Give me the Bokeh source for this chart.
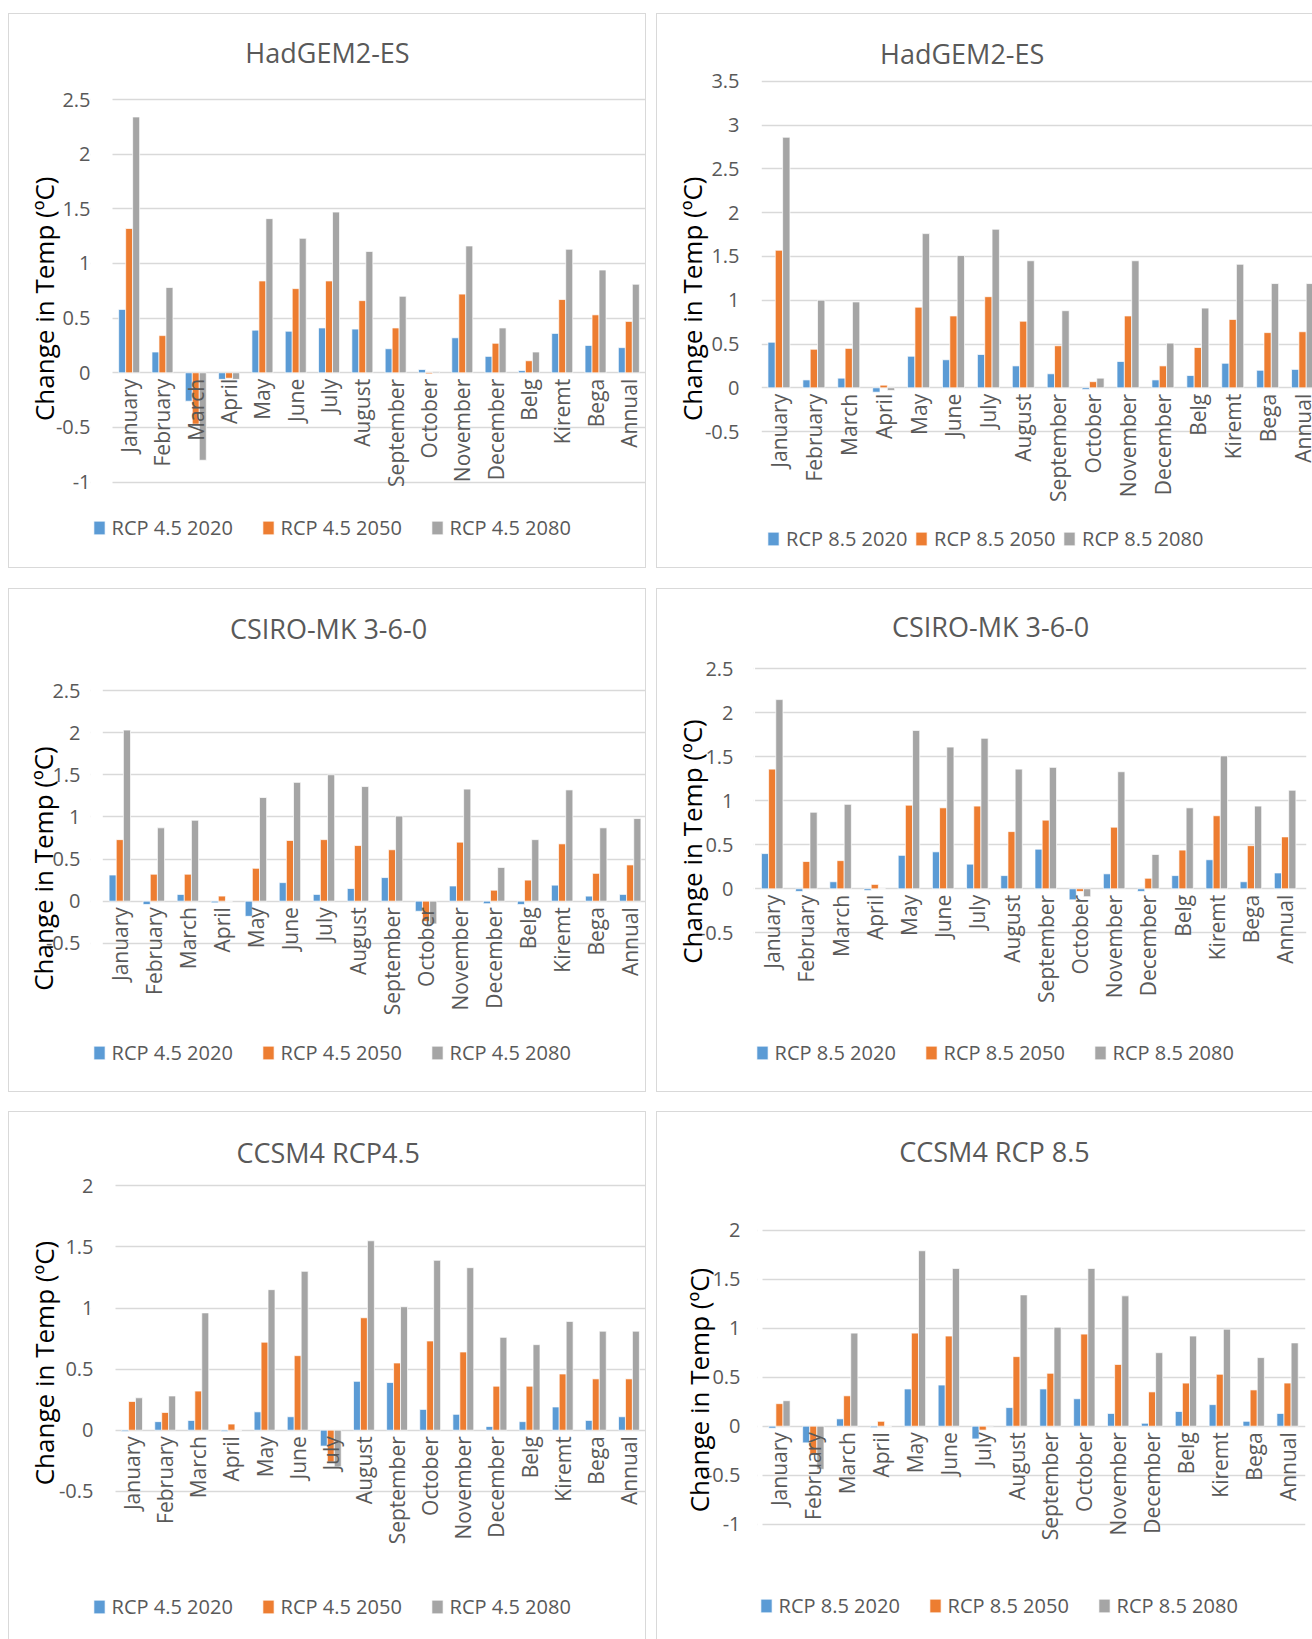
import math
from bokeh.plotting import figure
from bokeh.models import (Range1d, FixedTicker, NumeralTickFormatter, ColumnDataSource,
                          Legend, LegendItem, Label, LabelSet, Spacer, BoxAnnotation)
from bokeh.core.properties import value
from bokeh.layouts import row, column
from bokeh.transform import dodge
from bokeh.embed import file_html
from bokeh.resources import INLINE

categories = ["January", "February", "March", "April", "May", "June", "July", "August",
              "September", "October", "November", "December", "Belg", "Kiremt", "Bega", "Annual"]

# HadGEM2-ES RCP 4.5
had45_2020 = [0.58, 0.19, -0.26, -0.06, 0.39, 0.38, 0.41, 0.40, 0.22, 0.03, 0.32, 0.15, 0.02, 0.36, 0.25, 0.23]
had45_2050 = [1.32, 0.34, -0.47, -0.05, 0.84, 0.77, 0.84, 0.66, 0.41, -0.01, 0.72, 0.27, 0.11, 0.67, 0.53, 0.47]
had45_2080 = [2.34, 0.78, -0.80, -0.06, 1.41, 1.23, 1.47, 1.11, 0.70, 0.01, 1.16, 0.41, 0.19, 1.13, 0.94, 0.81]
# HadGEM2-ES RCP 8.5
had85_2020 = [0.52, 0.09, 0.11, -0.05, 0.36, 0.32, 0.38, 0.25, 0.16, -0.02, 0.30, 0.09, 0.14, 0.28, 0.20, 0.21]
had85_2050 = [1.57, 0.44, 0.45, 0.03, 0.92, 0.82, 1.04, 0.76, 0.48, 0.07, 0.82, 0.25, 0.46, 0.78, 0.63, 0.64]
had85_2080 = [2.86, 1.00, 0.98, -0.03, 1.76, 1.51, 1.81, 1.45, 0.88, 0.11, 1.45, 0.51, 0.91, 1.41, 1.19, 1.19]
# CSIRO-MK 3-6-0 RCP 4.5
csiro45_2020 = [0.31, -0.04, 0.08, -0.02, -0.18, 0.22, 0.08, 0.15, 0.28, -0.12, 0.18, -0.03, -0.04, 0.19, 0.06, 0.08]
csiro45_2050 = [0.73, 0.32, 0.32, 0.06, 0.39, 0.72, 0.73, 0.66, 0.61, -0.24, 0.70, 0.13, 0.25, 0.68, 0.33, 0.43]
csiro45_2080 = [2.03, 0.87, 0.96, 0.0, 1.23, 1.41, 1.50, 1.36, 1.01, -0.27, 1.33, 0.40, 0.73, 1.32, 0.87, 0.98]
# CSIRO-MK 3-6-0 RCP 8.5
csiro85_2020 = [0.40, -0.03, 0.08, -0.02, 0.38, 0.42, 0.28, 0.15, 0.45, -0.125, 0.17, -0.03, 0.15, 0.33, 0.08, 0.18]
csiro85_2050 = [1.36, 0.31, 0.32, 0.05, 0.95, 0.92, 0.94, 0.65, 0.78, -0.03, 0.70, 0.12, 0.44, 0.83, 0.49, 0.59]
csiro85_2080 = [2.15, 0.87, 0.96, 0.0, 1.80, 1.61, 1.71, 1.36, 1.38, -0.09, 1.33, 0.39, 0.92, 1.51, 0.94, 1.12]
# CCSM4 RCP 4.5
ccsm45_2020 = [-0.01, 0.07, 0.08, -0.01, 0.15, 0.11, -0.13, 0.40, 0.39, 0.17, 0.13, 0.03, 0.07, 0.19, 0.08, 0.11]
ccsm45_2050 = [0.235, 0.145, 0.32, 0.05, 0.72, 0.61, -0.26, 0.92, 0.55, 0.73, 0.64, 0.36, 0.36, 0.46, 0.42, 0.42]
ccsm45_2080 = [0.265, 0.28, 0.96, 0.0, 1.15, 1.30, -0.30, 1.55, 1.01, 1.39, 1.33, 0.76, 0.70, 0.89, 0.81, 0.81]
# CCSM4 RCP 8.5
ccsm85_2020 = [-0.02, -0.17, 0.075, -0.015, 0.38, 0.42, -0.13, 0.19, 0.38, 0.28, 0.13, 0.03, 0.15, 0.22, 0.05, 0.13]
ccsm85_2050 = [0.23, -0.29, 0.31, 0.05, 0.95, 0.92, -0.04, 0.71, 0.54, 0.94, 0.63, 0.35, 0.44, 0.53, 0.37, 0.44]
ccsm85_2080 = [0.26, -0.44, 0.95, 0.0, 1.79, 1.61, 0.005, 1.34, 1.01, 1.61, 1.33, 0.75, 0.92, 0.99, 0.70, 0.85]

labels45 = ["RCP 4.5 2020", "RCP 4.5 2050", "RCP 4.5 2080"]
labels85 = ["RCP 8.5 2020", "RCP 8.5 2050", "RCP 8.5 2080"]

yticks_had45 = [-1, -0.5, 0, 0.5, 1, 1.5, 2, 2.5]
yticks_had85 = [-0.5, 0, 0.5, 1, 1.5, 2, 2.5, 3, 3.5]
yticks_csiro = [-0.5, 0, 0.5, 1, 1.5, 2, 2.5]
yticks_ccsm45 = [-0.5, 0, 0.5, 1, 1.5, 2]
yticks_ccsm85 = [-1, -0.5, 0, 0.5, 1, 1.5, 2]

titles = ["HadGEM2-ES", "HadGEM2-ES", "CSIRO-MK 3-6-0", "CSIRO-MK 3-6-0", "CCSM4 RCP4.5", "CCSM4 RCP 8.5"]
y_title = "Change in Temp (ºC)"

FONT = "Open Sans"
COLORS = ["#5B9BD5", "#ED7D31", "#A5A5A5"]
TXT = "#595959"
GRID = "#d9d9d9"
BW = 0.21
NBSP = "\u00a0"
YT_SIZE = 26


def make_panel(title, series, labels, yticks, box, sides, area, title_c, ylab, leg):
    # box: page box of the panel; area: page pixels of the plot area
    # (left, right of the 16 categories, top tick, bottom tick, right edge of drawn frame)
    x0, y0, w, h = box
    fl, fr_ref, ft, fb, fr_canvas = area
    sq_left, sq_cy, step = leg
    FL = min(fl, sq_left - 3)          # frame left (legend must sit inside the frame)
    ux = (fr_ref - fl) / len(categories)
    ymin, ymax = yticks[0], yticks[-1]
    uy = (fb - ft) / (ymax - ymin)
    frame_bottom = y0 + h
    x_start = (FL - fl) / ux
    x_end = (fr_canvas - fl) / ux
    y_start = ymax - (frame_bottom - ft) / uy
    y_end = ymax + (ft - y0) / uy

    p = figure(width=w, height=h, x_range=Range1d(x_start, x_end), y_range=Range1d(y_start, y_end),
               output_backend="svg", toolbar_location=None,
               min_border_left=int(round(FL - x0)), min_border_right=int(round(x0 + w - fr_canvas)),
               min_border_top=0, min_border_bottom=0)
    bl, br, bt, bb = sides
    p.styles = {"border-left": ("1px solid %s" % GRID) if bl else "none",
                "border-right": ("1px solid %s" % GRID) if br else "none",
                "border-top": ("1px solid %s" % GRID) if bt else "none",
                "border-bottom": ("1px solid %s" % GRID) if bb else "none"}
    p.outline_line_color = None
    p.background_fill_color = "white"
    p.border_fill_color = "white"

    p.ygrid.grid_line_color = GRID
    p.ygrid.grid_line_width = 1.3
    p.xgrid.grid_line_color = None
    # keep the gridlines from running left of the plot area
    p.add_layout(BoxAnnotation(right=0, fill_color="white", fill_alpha=1.0, line_alpha=0.0,
                               level="underlay"))

    xpos = [i + 0.5 for i in range(len(categories))]
    src = ColumnDataSource(dict(x=xpos, name=categories, s0=series[0], s1=series[1], s2=series[2]))
    rends = []
    for k, off in enumerate([-BW, 0.0, BW]):
        r = p.vbar(x=dodge("x", off), top="s%d" % k, width=BW, source=src,
                   fill_color=COLORS[k], line_color="white", line_width=0.7)
        rends.append(r)

    p.xaxis.visible = False

    # y axis title: shift it along the axis to where the reference has it
    lx_std, ly = ylab
    frame_mid = (y0 + frame_bottom) / 2.0
    n_pad = int(round(abs(ly - frame_mid) / (0.26 * YT_SIZE / 2.0)))
    if ly > frame_mid:
        label_text = y_title + NBSP * n_pad
    else:
        label_text = NBSP * n_pad + y_title

    yax = p.yaxis[0]
    yax.ticker = FixedTicker(ticks=yticks)
    yax.formatter = NumeralTickFormatter(format="0.[0]")
    yax.axis_line_color = None
    yax.major_tick_line_color = None
    yax.minor_tick_line_color = None
    yax.major_label_standoff = int(round(FL - fl + 16))
    yax.major_label_text_font = FONT
    yax.major_label_text_font_size = "20px"
    yax.major_label_text_color = TXT
    yax.axis_label = label_text
    yax.axis_label_text_font = FONT
    yax.axis_label_text_font_size = "%dpx" % YT_SIZE
    yax.axis_label_text_font_style = "normal"
    yax.axis_label_text_color = "black"
    yax.axis_label_standoff = lx_std

    # category labels hanging from the zero line
    p.add_layout(LabelSet(x="x", y=0, text="name", source=src, angle=math.pi / 2,
                          text_align="right", text_baseline="middle", y_offset=-6,
                          text_font=value(FONT), text_font_size=value("21px"),
                          text_color=TXT))

    tx, ty = title_c
    p.add_layout(Label(x=(tx - fl) / ux, y=ymax - (ty - 3 - ft) / uy, text=title,
                       text_align="center", text_baseline="middle", text_font=FONT,
                       text_font_size="27px", text_color=TXT))

    gw, gh = 14, 17
    label_w = 125
    spacing = max(0, int(round(step - (gw + 6 + label_w))))
    legend = Legend(items=[LegendItem(label=labels[k], renderers=[rends[k]]) for k in range(3)],
                    orientation="horizontal",
                    location=(sq_left - 1.4 - FL, frame_bottom - (sq_cy - 8.5) - 27 + 6.5),
                    padding=0, margin=0, spacing=spacing, glyph_width=gw, glyph_height=gh,
                    label_standoff=6, label_width=label_w, label_height=17,
                    label_text_font=FONT, label_text_font_size="20px", label_text_color=TXT,
                    background_fill_alpha=0, border_line_color=None)
    p.add_layout(legend)
    return p


p1 = make_panel(titles[0], [had45_2020, had45_2050, had45_2080], labels45, yticks_had45,
                (8, 13, 638, 555), (1, 1, 1, 1), (111, 644, 98, 480.6, 645),
                (326, 54), (-9, 298), (92, 528, 169.4))
p2 = make_panel(titles[1], [had85_2020, had85_2050, had85_2080], labels85, yticks_had85,
                (656, 13, 656, 555), (1, 0, 1, 1), (760.5, 1318.5, 79.7, 430.1, 1312),
                (961, 55.4), (-8, 298), (767, 539.4, 148.4))
p3 = make_panel(titles[2], [csiro45_2020, csiro45_2050, csiro45_2080], labels45, yticks_csiro,
                (8, 588, 638, 504), (1, 1, 1, 1), (101.3, 645.7, 689, 941.8, 645),
                (327, 630), (-18, 867.7), (92, 1052.7, 169.4))
p4 = make_panel(titles[3], [csiro85_2020, csiro85_2050, csiro85_2080], labels85, yticks_csiro,
                (656, 588, 656, 504), (1, 0, 1, 1), (753.4, 1300.7, 667.3, 931.3, 1305),
                (989, 628), (-14, 839), (754.8, 1052.7, 169.4))
p5 = make_panel(titles[4], [ccsm45_2020, ccsm45_2050, ccsm45_2080], labels45, yticks_ccsm45,
                (8, 1111, 638, 528), (1, 1, 1, 0), (114, 644, 1184.3, 1489.8, 645),
                (326.7, 1154), (-6, 1362.7), (92, 1606.8, 169.4))
p6 = make_panel(titles[5], [ccsm85_2020, ccsm85_2050, ccsm85_2080], labels85, yticks_ccsm85,
                (656, 1111, 656, 528), (1, 0, 1, 0), (761, 1303, 1228.7, 1522.7, 1304),
                (993, 1153), (-14, 1388.8), (759, 1605.7, 169.4))

layout = column(Spacer(width=10, height=13),
                row(Spacer(width=8, height=10), p1, Spacer(width=10, height=10), p2),
                Spacer(width=10, height=20),
                row(Spacer(width=8, height=10), p3, Spacer(width=10, height=10), p4),
                Spacer(width=10, height=19),
                row(Spacer(width=8, height=10), p5, Spacer(width=10, height=10), p6))

open("out.html", "w").write(file_html(layout, INLINE))
